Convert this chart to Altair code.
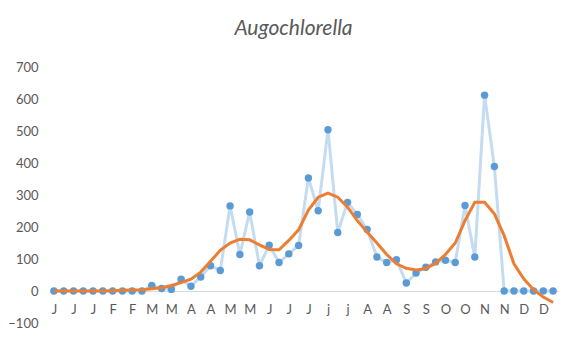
import json
import altair as alt
import pandas as pd

# weekly counts (52 weeks)
counts = [0, 0, 0, 0, 0, 0, 0, 0, 0, 0,
          17, 8, 5, 37, 15, 44, 79, 64, 266, 114,
          247, 79, 143, 89, 116, 142, 353, 251, 504, 183,
          277, 239, 192, 106, 89, 98, 25, 56, 74, 91,
          96, 89, 267, 106, 612, 389, 0, 0, 0, 0,
          0, 0]
# smoothed trend
trend = [0, 0, 0, 0, 0, 0, 1, 2, 3, 4,
         7, 10, 17, 26, 37, 59, 93, 127, 150, 162,
         160, 144, 130, 129, 158, 191, 253, 293, 306, 293,
         262, 220, 184, 150, 114, 85, 71, 66, 70, 87,
         114, 150, 220, 277, 277, 241, 173, 85, 38, 4,
         -19, -36]
# tick labels shown on every other week
tick_labels = ["J", "J", "J", "F", "F", "M", "M", "A", "A", "M", "M", "J", "J",
               "J", "j", "j", "A", "A", "S", "S", "O", "O", "N", "N", "D", "D"]
y_ticks = [-100, 0, 100, 200, 300, 400, 500, 600, 700]

df = pd.DataFrame({"week": list(range(len(counts))), "count": counts, "trend": trend})

FONT = "Lato"
GREY = "#595959"

x_scale = alt.Scale(domain=[-0.5, len(counts) - 0.5], nice=False, zero=False)
y_scale = alt.Scale(domain=[-100, 700], nice=False)

label_expr = json.dumps(tick_labels) + "[datum.value / 2]"

x_axis = alt.Axis(
    values=list(range(0, len(counts), 2)),
    labelExpr=label_expr,
    title=None,
    ticks=False,
    grid=False,
    domain=True,
    domainColor="#d9d9d9",
    domainWidth=1,
    offset=-32,
    labelPadding=12,
    labelAngle=0,
    labelOverlap=False,
    labelFont=FONT,
    labelFontSize=13,
    labelColor=GREY,
)
y_axis = alt.Axis(
    values=y_ticks,
    title=None,
    ticks=False,
    grid=False,
    domain=False,
    labelPadding=11,
    labelOverlap=False,
    labelFont=FONT,
    labelFontSize=13,
    labelColor=GREY,
)

base = alt.Chart(df)

blue_line = base.mark_line(color="#c5dcf0", strokeWidth=3).encode(
    x=alt.X("week:Q", scale=x_scale, axis=x_axis),
    y=alt.Y("count:Q", scale=y_scale, axis=y_axis),
)
blue_pts = base.mark_circle(color="#5b9bd5", size=55, opacity=1).encode(
    x=alt.X("week:Q", scale=x_scale, axis=x_axis),
    y=alt.Y("count:Q", scale=y_scale, axis=y_axis),
)
orange = base.mark_line(color="#ed7d31", strokeWidth=3).encode(
    x=alt.X("week:Q", scale=x_scale, axis=x_axis),
    y=alt.Y("trend:Q", scale=y_scale, axis=y_axis),
)

chart = alt.layer(blue_line, blue_pts, orange).properties(
    width=509,
    height=256,
    autosize=alt.AutoSizeParams(type="none"),
    padding={"left": 41, "top": 59, "right": 6, "bottom": 29},
    background="white",
    title=alt.TitleParams(
        "Augochlorella",
        font=FONT,
        fontSize=21,
        fontStyle="italic",
        fontWeight="normal",
        color=GREY,
        anchor="middle",
        dx=-10,
        offset=22,
    ),
).configure_view(stroke=None).configure_axis(labelOverlap=False, labelSeparation=0)

chart.save("out.html", embed_options={"renderer": "svg", "actions": False})
